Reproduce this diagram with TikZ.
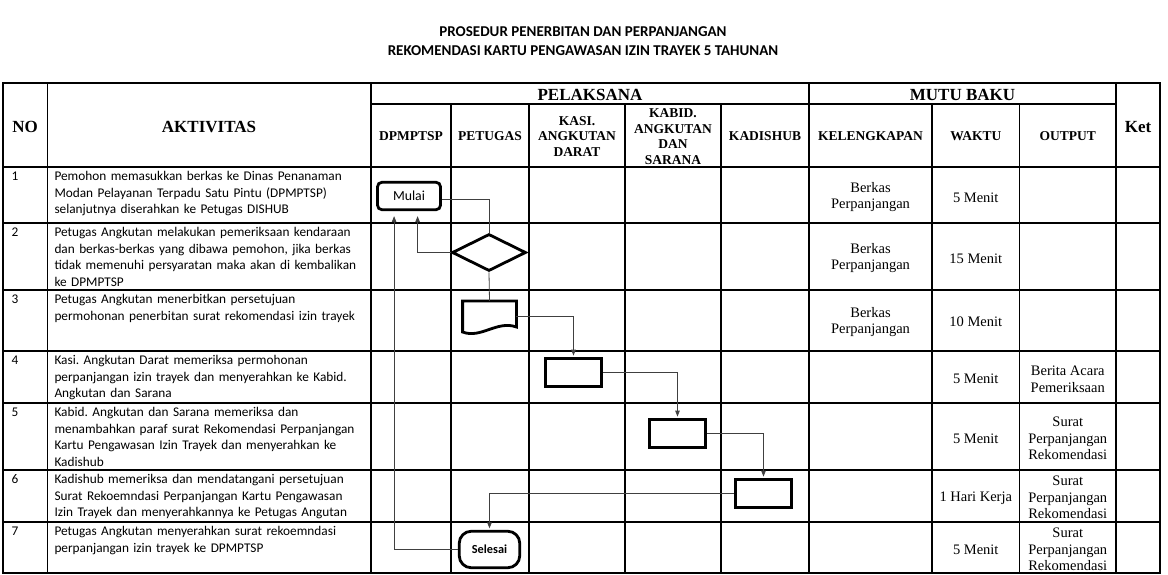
\documentclass[tikz,border=0pt]{standalone}
\usepackage{fontspec}
\setmainfont{Liberation Serif}
\newfontfamily\calfont{Carlito}
\usetikzlibrary{arrows.meta,shapes.geometric,calc}
\newcommand\myfs[2]{\fontsize{#1}{#2}\selectfont}
\frenchspacing
\begin{document}
\begin{tikzpicture}[x=1pt,y=-1pt,
  gridline/.style={line width=1.2pt,black},
  bighdr/.style={font=\bfseries\myfs{17}{20},inner sep=0,align=center},
  hdr/.style={font=\bfseries\myfs{13.5}{15.6},inner sep=0,align=center},
  act/.style={font=\calfont\frenchspacing\myfs{13.3}{16.7},anchor=base west,text width=318pt,align=left,inner sep=0},
  numtxt/.style={font=\calfont\myfs{13.3}{16.7},anchor=base west,inner sep=0},
  mutu/.style={font=\myfs{14.5}{16.7},inner sep=0,align=center},
  shapeline/.style={draw,line width=2.8pt,black},
  procbox/.style={shapeline,minimum width=56pt,minimum height=28pt,inner sep=0},
  conn/.style={line width=0.8pt,draw=black!75},
  arr/.style={conn,-{Triangle[length=6pt,width=4.5pt]},shorten >=5pt}
]
\useasboundingbox (0,0) rectangle (1168,575);
\fill[white] (0,0) rectangle (1168,575);

% title
\node[font=\calfont\bfseries\myfs{15}{19},align=center,inner sep=0] (title) at (583,41.2)
  {PROSEDUR PENERBITAN DAN PERPANJANGAN\\REKOMENDASI KARTU PENGAWASAN IZIN TRAYEK 5 TAHUNAN};

% table grid
\draw[gridline] (3,83) rectangle (1160,573);
\draw[gridline] (371,104) -- (1116,104);
\foreach \yy in {167,223,290,351,403,470,522} \draw[gridline] (3,\yy) -- (1160,\yy);
\foreach \xx in {47.5,371,809,1116} \draw[gridline] (\xx,83) -- (\xx,573);
\foreach \xx in {451,529,625,721,932,1019.5} \draw[gridline] (\xx,104) -- (\xx,573);

% headers
\node[bighdr] (hno) at (25.2,127) {NO};
\node[bighdr] (hakt) at (209,127) {AKTIVITAS};
\node[bighdr] (hpel) at (590,95) {PELAKSANA};
\node[bighdr] (hmutu) at (962.5,95) {MUTU BAKU};
\node[bighdr] (hket) at (1138,127) {Ket};
\node[hdr] (hdp) at (411,136) {DPMPTSP};
\node[hdr] (hpet) at (490,136) {PETUGAS};
\node[hdr] (hkasi) at (577,136.5) {KASI.\\ANGKUTAN\\DARAT};
\node[hdr] (hkabid) at (673,136.5) {KABID.\\ANGKUTAN\\DAN\\SARANA};
\node[hdr] (hkadis) at (765,136) {KADISHUB};
\node[hdr] (hkel) at (870.5,136) {KELENGKAPAN};
\node[hdr] (hwak) at (975.75,136) {WAKTU};
\node[hdr] (hout) at (1067.75,136) {OUTPUT};

% numbers and activities
\node[numtxt] (n1) at (11.5,180.5) {1};
\node[act] (a1) at (54.3,180.5) {Pemohon memasukkan berkas ke Dinas Penanaman\\Modan Pelayanan Terpadu Satu Pintu (DPMPTSP)\\selanjutnya diserahkan ke Petugas DISHUB};
\node[numtxt] (n2) at (11.5,236.5) {2};
\node[act] (a2) at (54.3,236.5) {Petugas Angkutan melakukan pemeriksaan kendaraan\\dan berkas-berkas yang dibawa pemohon, jika berkas\\tidak memenuhi persyaratan maka akan di kembalikan\\ke DPMPTSP};
\node[numtxt] (n3) at (11.5,303.5) {3};
\node[act] (a3) at (54.3,303.5) {Petugas Angkutan menerbitkan persetujuan\\permohonan penerbitan surat rekomendasi izin trayek};
\node[numtxt] (n4) at (11.5,364.5) {4};
\node[act] (a4) at (54.3,364.5) {Kasi. Angkutan Darat memeriksa permohonan\\perpanjangan izin trayek dan menyerahkan ke Kabid.\\Angkutan dan Sarana};
\node[numtxt] (n5) at (11.5,416.5) {5};
\node[act] (a5) at (54.3,416.5) {Kabid. Angkutan dan Sarana memeriksa dan\\menambahkan paraf surat Rekomendasi Perpanjangan\\Kartu Pengawasan Izin Trayek dan menyerahkan ke\\Kadishub};
\node[numtxt] (n6) at (11.5,483.5) {6};
\node[act] (a6) at (54.3,483.5) {Kadishub memeriksa dan mendatangani persetujuan\\Surat Rekoemndasi Perpanjangan Kartu Pengawasan\\Izin Trayek dan menyerahkannya ke Petugas Angutan};
\node[numtxt] (n7) at (11.5,535.5) {7};
\node[act] (a7) at (54.3,535.5) {Petugas Angkutan menyerahkan surat rekoemndasi\\perpanjangan izin trayek ke DPMPTSP};

% mutu baku
\node[mutu] (k1) at (870.5,197) {Berkas\\Perpanjangan};
\node[mutu] (k2) at (870.5,258) {Berkas\\Perpanjangan};
\node[mutu] (k3) at (870.5,322) {Berkas\\Perpanjangan};
\node[mutu] (w1) at (975.75,197.5) {5 Menit};
\node[mutu] (w2) at (975.75,258.5) {15 Menit};
\node[mutu] (w3) at (975.75,321.5) {10 Menit};
\node[mutu] (w4) at (975.75,378.5) {5 Menit};
\node[mutu] (w5) at (975.75,438.5) {5 Menit};
\node[mutu] (w6) at (975.75,498) {1 Hari Kerja};
\node[mutu] (w7) at (975.75,549.5) {5 Menit};
\node[mutu] (o4) at (1067.75,379) {Berita Acara\\Pemeriksaan};
\node[mutu] (o5) at (1067.75,438.5) {Surat\\Perpanjangan\\Rekomendasi};
\node[mutu] (o6) at (1067.75,497.5) {Surat\\Perpanjangan\\Rekomendasi};
\node[mutu] (o7) at (1067.75,549.5) {Surat\\Perpanjangan\\Rekomendasi};

% flowchart shapes
\node[shapeline,rounded corners=4.5pt,minimum width=63pt,minimum height=27.5pt,inner sep=0,
  font=\calfont\myfs{13.8}{16}] (mulai) at (409,196) {Mulai};
\node[shapeline,diamond,minimum width=74pt,minimum height=37pt,inner sep=0] (dia) at (489,252.5) {};
\node[inner sep=0,minimum width=53.2pt,minimum height=31pt] (doc) at (489.5,316.5) {};
\draw[shapeline,line join=miter] (462.6,301) -- (516.4,301) -- (516.4,327)
  .. controls (497,320) and (481,339) .. (462.6,332) -- cycle;
\node[procbox] (b4) at (573.5,372.5) {};
\node[procbox] (b5) at (677.5,433.5) {};
\node[procbox] (b6) at (763.5,493.5) {};
\node[shapeline,rounded corners=12pt,minimum width=60.5pt,minimum height=36.5pt,inner sep=0,
  font=\calfont\bfseries\myfs{12.3}{14}] (sel) at (489.5,549.5) {Selesai};

% connectors
\draw[conn] ([yshift=-3.3pt]mulai.east) -| (dia.north);
\draw[arr] (dia.west) -| ([xshift=41.5pt]mulai.south west);
\draw[arr] (sel.west) -| ([xshift=18pt]mulai.south west);
\draw[conn] (dia.south) -- (doc.north);
\draw[arr,shorten >=1.5pt] (doc.east) -| (b4.north);
\draw[arr,shorten >=1.5pt] (b4.east) -| (b5.north);
\draw[arr,shorten >=1.5pt] (b5.east) -| (b6.north);
\draw[arr,shorten >=1.5pt] (b6.west) -| (sel.north);
\end{tikzpicture}
\end{document}
